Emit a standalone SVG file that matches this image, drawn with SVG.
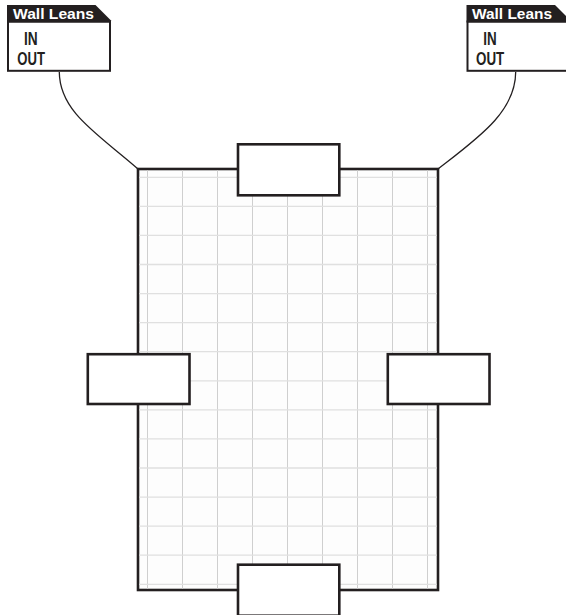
<svg xmlns="http://www.w3.org/2000/svg" width="566" height="615" viewBox="0 0 566 615">
<style>
.bg{fill:#ffffff}
.plan{fill:#fdfdfd;stroke:#231f20;stroke-width:2.6}
.vg{stroke:#cfcfcf;stroke-width:1;fill:none}
.hg{stroke:#e0e0e0;stroke-width:1.3;fill:none}
.box{fill:#ffffff;stroke:#231f20;stroke-width:2.6}
.lbox{fill:#ffffff;stroke:#231f20;stroke-width:2}
.hdr{fill:#231f20}
.ht{font-family:"Liberation Sans",Arial,sans-serif;font-weight:bold;font-size:15px;fill:#ffffff}
.io{font-family:"Liberation Sans Narrow","Liberation Sans",Arial,sans-serif;font-weight:bold;font-size:17.5px;fill:#231f20}
.conn{fill:none;stroke:#231f20;stroke-width:1.3}
</style>
<rect class="bg" x="0" y="0" width="566" height="615"/>
<g id="floor-plan">
<rect class="plan" x="138" y="169" width="300" height="421"/>
<g id="grid">
<path class="vg" d="M147.5,170.3V588.7M182.5,170.3V588.7M217.5,170.3V588.7M252.5,170.3V588.7M287.5,170.3V588.7M322.5,170.3V588.7M357.5,170.3V588.7M392.5,170.3V588.7M427.5,170.3V588.7"/>
<path class="hg" d="M139.3,177.3H436.7M139.3,206.4H436.7M139.3,235.4H436.7M139.3,264.5H436.7M139.3,293.6H436.7M139.3,322.6H436.7M139.3,351.7H436.7M139.3,380.8H436.7M139.3,409.9H436.7M139.3,438.9H436.7M139.3,468H436.7M139.3,497.1H436.7M139.3,526.1H436.7M139.3,555.2H436.7M139.3,584.3H436.7"/>
</g>
</g>
<g id="connectors">
<path class="conn" d="M59.3,72 C59.5,112 98,134 138,169"/>
<path class="conn" d="M515.7,72 C515.5,112 478,138 438,169"/>
</g>
<g id="box-top"><rect class="box" x="238" y="144.3" width="101.3" height="51"/></g>
<g id="box-left"><rect class="box" x="87.8" y="354.2" width="101.7" height="49.8"/></g>
<g id="box-right"><rect class="box" x="387.8" y="354.2" width="101.7" height="49.8"/></g>
<g id="box-bottom"><rect class="box" x="238" y="564.7" width="101.3" height="51"/></g>
<g id="label-left">
<rect class="lbox" x="8" y="21.5" width="102" height="49.3"/>
<polygon class="hdr" points="7,5 95.5,5 111,20.5 111,22.5 7,22.5"/>
<text class="ht" x="13" y="19" textLength="81" lengthAdjust="spacingAndGlyphs">Wall Leans</text>
<text class="io" x="24" y="44.5" textLength="13.7" lengthAdjust="spacingAndGlyphs">IN</text>
<text class="io" x="17.3" y="64.5" textLength="27.7" lengthAdjust="spacingAndGlyphs">OUT</text>
</g>
<g id="label-right">
<rect class="lbox" x="467.5" y="21.5" width="102" height="49.3"/>
<polygon class="hdr" points="466.5,5 555,5 570.5,20.5 570.5,22.5 466.5,22.5"/>
<text class="ht" x="472" y="19" textLength="80" lengthAdjust="spacingAndGlyphs">Wall Leans</text>
<text class="io" x="483.3" y="44.5" textLength="13.4" lengthAdjust="spacingAndGlyphs">IN</text>
<text class="io" x="476" y="64.5" textLength="28.3" lengthAdjust="spacingAndGlyphs">OUT</text>
</g>
</svg>
